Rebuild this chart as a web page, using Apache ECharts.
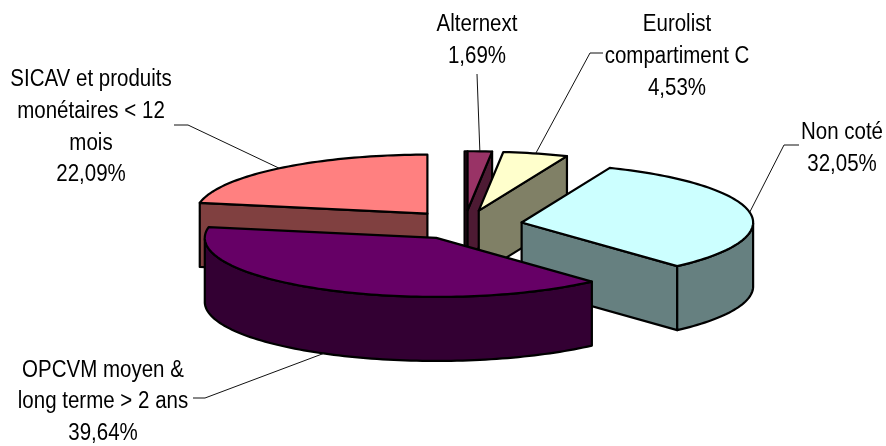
<!DOCTYPE html>
<html><head><meta charset="utf-8">
<style>html,body{margin:0;padding:0;background:#fff}#c{width:886px;height:446px}</style>
<script src="https://cdn.jsdelivr.net/npm/echarts@6/dist/echarts.min.js"></script>
</head><body><div id="c"></div>
<script>
// Data, in pie order (clockwise from 12 o'clock)
const categories = ['Alternext', 'Eurolist\ncompartiment C', 'Non coté', 'OPCVM moyen &\nlong terme > 2 ans', 'SICAV et produits\nmonétaires < 12\nmois'];
const shares = [1.69, 4.53, 32.05, 39.64, 22.09];
const topColors = ['#993366', '#FFFFCC', '#CCFFFF', '#660066', '#FF8080'];
const wallColors = ['#4D1A33', '#808066', '#668080', '#330033', '#804040'];
const drawOrder = [0, 1, 4, 2, 3];

// Layout
const CX = 464.5, CY = 225, RX = 231.5, RY = 59, DEPTH = 64, EXPLODE = 58;
const labelPos = [[477, 40.5], [677, 56.5], [842, 148.5], [103, 402], [91, 127.5]];
const leaderStart = [[[477, 74]], [[603, 53], [590, 53]], [[799, 145], [784, 145]], [[193, 398], [205, 398]], [[174, 125], [188, 125]]];
const FONT = 'Liberation Sans';

const total = shares.reduce((a, b) => a + b, 0);
const starts = []; shares.reduce((acc, v, i) => (starts[i] = acc, acc + v), 0);
const rad = v => v / total * Math.PI * 2;

function renderSlice(params, api) {
  const i = api.value(0), v = api.value(1);
  const a0 = rad(starts[i]), a1 = rad(starts[i] + v), mid = (a0 + a1) / 2;
  const ax = CX + EXPLODE * Math.sin(mid), ay = CY - EXPLODE * (RY / RX) * Math.cos(mid);
  const rim = t => [ax + RX * Math.sin(t), ay - RY * Math.cos(t)];
  const down = p => [p[0], p[1] + DEPTH];
  const apex = [ax, ay];
  const lw = { stroke: '#000', lineWidth: 2.2, lineJoin: 'round' };
  const poly = (points, fill) => ({ type: 'polygon', shape: { points }, style: { fill, ...lw } });
  const children = [];
  const arc = [];
  const N = Math.max(4, Math.round((a1 - a0) * 40));
  for (let k = 0; k <= N; k++) arc.push(a0 + (a1 - a0) * k / N);
  const wall = wallColors[i], top = topColors[i];
  const face = t => poly([apex, rim(t), down(rim(t)), down(apex)], wall);
  if (a0 === 0) {
    // the 12 o'clock cut face shows as a thin sliver through the view's slight perspective
    const y0 = rim(0)[1], y1 = ay + DEPTH;
    children.push(poly([[ax - 3, y0], [ax, y0], [ax, y1], [ax - 3, y1]], wall));
  }
  if (Math.sin(a0) < 0) children.push(face(a0));
  if (Math.sin(a1) > 0) children.push(face(a1));
  const front = arc.filter(t => Math.cos(t) <= 0);
  if (front.length > 1) {
    const up = front.map(rim);
    children.push(poly(up.concat(up.map(down).reverse()), wall));
  }
  children.push(poly([apex].concat(arc.map(rim)), top));
  const anchor = Math.cos(mid) < 0 ? down(rim(mid)) : rim(mid);
  children.push({ type: 'polyline', shape: { points: leaderStart[i].concat([anchor]) }, style: { stroke: '#111', lineWidth: 1, fill: 'none' } });
  const text = categories[i] + '\n' + v.toFixed(2).replace('.', ',') + '%';
  children.push({
    type: 'text', x: labelPos[i][0], y: labelPos[i][1], scaleY: 1.13,
    style: { text, fontFamily: FONT, fontSize: 20.5, lineHeight: 28, fill: '#000', align: 'center', verticalAlign: 'middle' }
  });
  return { type: 'group', children };
}

const chart = echarts.init(document.getElementById('c'), null, { renderer: 'canvas' });
chart.setOption({
  animation: false,
  backgroundColor: '#fff',
  series: [{
    type: 'custom', coordinateSystem: 'none', silent: true,
    renderItem: renderSlice,
    data: drawOrder.map(i => [i, shares[i]])
  }]
});
</script></body></html>
